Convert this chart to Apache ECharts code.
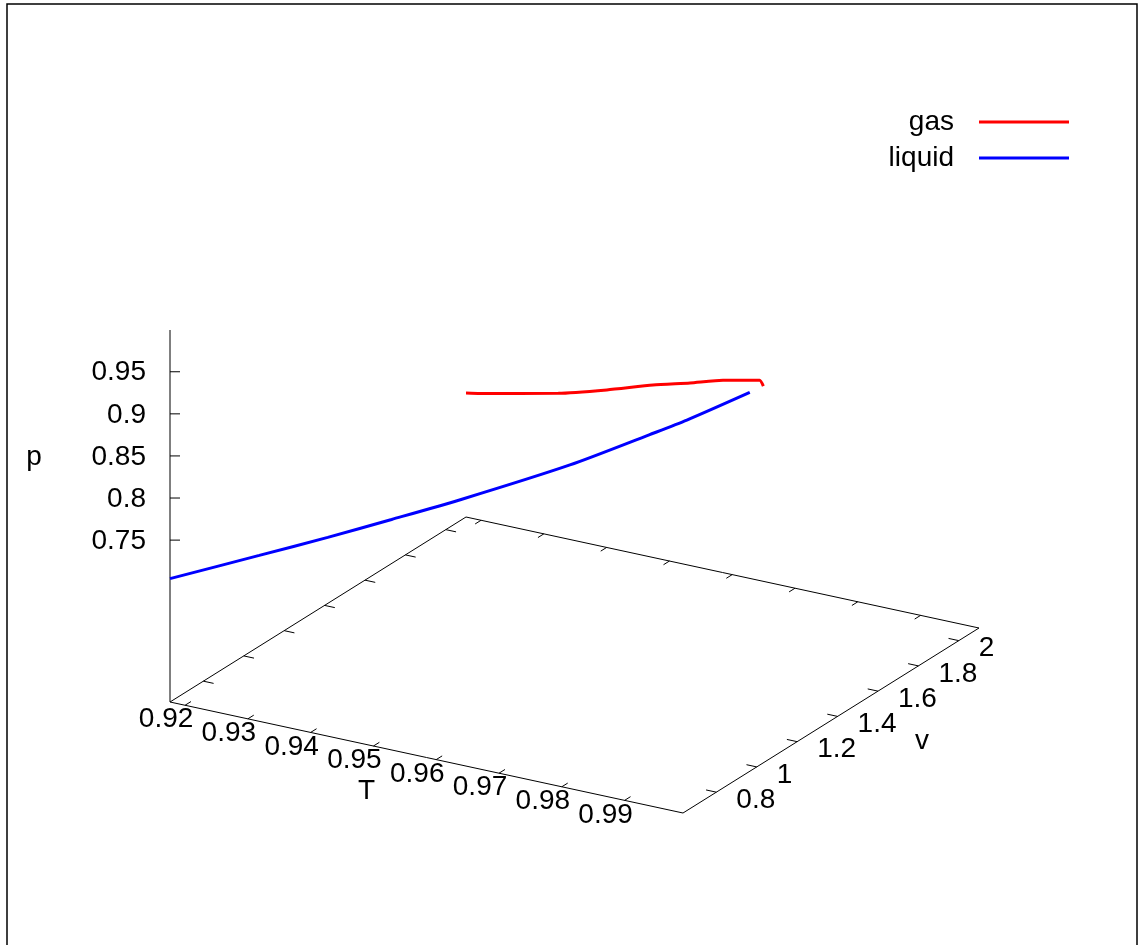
<!DOCTYPE html>
<html><head><meta charset="utf-8">
<script src="https://cdn.jsdelivr.net/npm/echarts@6/dist/echarts.min.js"></script>
<style>html,body{margin:0;padding:0;background:#fff}#c{width:1143px;height:945px}</style>
</head><body><div id="c"></div><script>
// ---------------- data ----------------
const gasT = [0.9176, 0.9209, 0.9406, 0.9521, 0.9627, 0.9722, 0.9807, 0.9865, 0.9920, 0.9962];
const gasV = [2.100, 2.066, 1.842, 1.725, 1.624, 1.512, 1.411, 1.325, 1.241, 1.129];
const gasP = [0.7050, 0.7149, 0.7804, 0.8205, 0.8586, 0.8933, 0.9254, 0.9477, 0.9691, 0.9857];

const liqT = [0.9176, 0.9305, 0.9407, 0.9499, 0.9602, 0.9756, 0.9848, 0.9892, 0.9951];
const liqV = [0.635, 0.676, 0.698, 0.728, 0.752, 0.812, 0.918, 0.968, 1.096];
const liqP = [0.7043, 0.7465, 0.7811, 0.8127, 0.8495, 0.9064, 0.9411, 0.9581, 0.9813];

const T_TICKS = [0.92, 0.93, 0.94, 0.95, 0.96, 0.97, 0.98, 0.99];
const T_LABELS = ['0.92', '0.93', '0.94', '0.95', '0.96', '0.97', '0.98', '0.99'];
const V_TICKS = [0.8, 1, 1.2, 1.4, 1.6, 1.8, 2];
const V_LABELS = ['0.8', '1', '1.2', '1.4', '1.6', '1.8', '2'];
const P_TICKS = [0.75, 0.8, 0.85, 0.9, 0.95];
const P_LABELS = ['0.75', '0.8', '0.85', '0.9', '0.95'];

// axis ranges
const T_MIN = 0.9176, T_MAX = 0.9993;
const V_MIN = 0.635, V_MAX = 2.10;
const P_MIN = 0.705, P_MAX = 0.9996;
const TICSLEVEL = 0.5;

// ---------------- view (layout) ----------------
const W = 1143, H = 945;
const VIEW = { ox: 170, oy: 702, Tx: 513, Ty: 111, vx: 296, vy: -185, zH: 372 };
const PB = P_MIN - TICSLEVEL * (P_MAX - P_MIN);
const TICK = 0.02;
const FONT = "'Liberation Sans', Arial, sans-serif";
const FS = 28;

function proj(T, v, p) {
  const a = (T - T_MIN) / (T_MAX - T_MIN);
  const b = (v - V_MIN) / (V_MAX - V_MIN);
  const c = (p - PB) / (P_MAX - PB);
  return [VIEW.ox + a * VIEW.Tx + b * VIEW.vx, VIEW.oy + a * VIEW.Ty + b * VIEW.vy - c * VIEW.zH];
}

const gasData = gasT.map((t, i) => proj(t, gasV[i], gasP[i]));
const liqData = liqT.map((t, i) => proj(t, liqV[i], liqP[i]));

const stroke = { stroke: '#000', lineWidth: 1 };
function seg(a, b) { return { type: 'line', shape: { x1: a[0], y1: a[1], x2: b[0], y2: b[1] }, style: stroke }; }
function txt(p, s, align) {
  return { type: 'text', x: p[0], y: p[1], style: { text: s, fill: '#000', fontSize: FS, fontFamily: FONT, align: align || 'center', verticalAlign: 'middle' } };
}

function frameItem(params, api) {
  const P = (T, v, p) => api.coord(proj(T, v, p));
  const a = P(T_MIN, V_MIN, PB), b = P(T_MAX, V_MIN, PB), c = P(T_MAX, V_MAX, PB), d = P(T_MIN, V_MAX, PB);
  const top = P(T_MIN, V_MIN, P_MAX);
  const tMid = P((T_MIN + T_MAX) / 2, V_MIN, PB);
  const vMid = P(T_MAX, (V_MIN + V_MAX) / 2, PB);
  const pMid = P(T_MIN, V_MIN, (P_MIN + P_MAX) / 2);
  return { type: 'group', children: [
    seg(a, b), seg(b, c), seg(c, d), seg(d, a), seg(a, top),
    txt([tMid[0] - 60, tMid[1] + 34], 'T'),
    txt([vMid[0] + 91, vMid[1] + 21], 'v'),
    txt([34, pMid[1] + 3], 'p')
  ] };
}
function tTickItem(params, api) {
  const T = api.value(0), i = api.value(1);
  const vr = V_MAX - V_MIN;
  const f0 = api.coord(proj(T, V_MIN, PB)), f1 = api.coord(proj(T, V_MIN + TICK * vr, PB));
  const b0 = api.coord(proj(T, V_MAX, PB)), b1 = api.coord(proj(T, V_MAX - TICK * vr, PB));
  return { type: 'group', children: [seg(f0, f1), seg(b0, b1), txt([f0[0] - 19, f0[1] + 14.5], T_LABELS[i])] };
}
function vTickItem(params, api) {
  const v = api.value(0), i = api.value(1);
  const tr = T_MAX - T_MIN;
  const r0 = api.coord(proj(T_MAX, v, PB)), r1 = api.coord(proj(T_MAX - TICK * tr, v, PB));
  const l0 = api.coord(proj(T_MIN, v, PB)), l1 = api.coord(proj(T_MIN + TICK * tr, v, PB));
  return { type: 'group', children: [seg(r0, r1), seg(l0, l1), txt([r0[0] + 20, r0[1] + 8], V_LABELS[i], 'left')] };
}
function pTickItem(params, api) {
  const p = api.value(0), i = api.value(1);
  const z0 = api.coord(proj(T_MIN, V_MIN, p));
  return { type: 'group', children: [seg(z0, [z0[0] + 10, z0[1]]), txt([z0[0] - 24, z0[1] + 1], P_LABELS[i], 'right')] };
}

const chart = echarts.init(document.getElementById('c'), null, { renderer: 'canvas' });
chart.setOption({
  animation: false,
  backgroundColor: '#fff',
  grid: { left: 0, right: 0, top: 0, bottom: 0 },
  xAxis: { type: 'value', min: 0, max: W, show: false },
  yAxis: { type: 'value', min: 0, max: H, inverse: true, show: false },
  legend: {
    data: ['gas', 'liquid'], orient: 'vertical', right: 69, top: 103, align: 'right',
    icon: 'rect', itemWidth: 90, itemHeight: 3, itemGap: 8, selectedMode: false,
    textStyle: { fontSize: FS, fontFamily: FONT, color: '#000', lineHeight: 28, padding: [0, 20, 0, 0] }
  },
  graphic: [{ type: 'rect', shape: { x: 7, y: 4, width: 1130, height: 960 }, style: { fill: null, stroke: '#000', lineWidth: 1.5 }, silent: true }],
  series: [
    { type: 'custom', name: 'frame', coordinateSystem: 'cartesian2d', data: [[0, 0]], renderItem: frameItem, silent: true, z: 1 },
    { type: 'custom', name: 'Tticks', coordinateSystem: 'cartesian2d', data: T_TICKS.map((t, i) => [t, i]), renderItem: tTickItem, silent: true, z: 1, clip: false },
    { type: 'custom', name: 'vticks', coordinateSystem: 'cartesian2d', data: V_TICKS.map((t, i) => [t, i]), renderItem: vTickItem, silent: true, z: 1, clip: false },
    { type: 'custom', name: 'pticks', coordinateSystem: 'cartesian2d', data: P_TICKS.map((t, i) => [t, i]), renderItem: pTickItem, silent: true, z: 1, clip: false },
    { type: 'line', name: 'gas', data: gasData, showSymbol: false, symbol: 'none', smooth: 0.2, color: '#ff0000', lineStyle: { color: '#ff0000', width: 3 }, z: 3 },
    { type: 'line', name: 'liquid', data: liqData, showSymbol: false, symbol: 'none', smooth: 0.25, color: '#0000ff', lineStyle: { color: '#0000ff', width: 3 }, z: 3 }
  ]
});
</script></body></html>
